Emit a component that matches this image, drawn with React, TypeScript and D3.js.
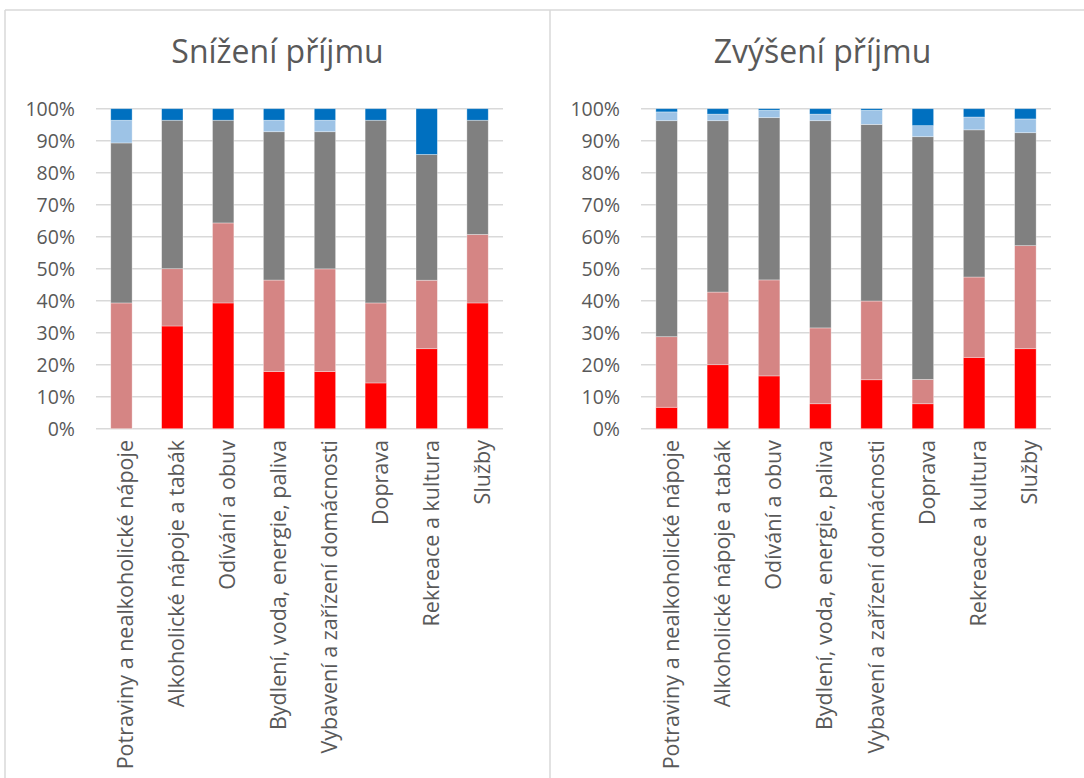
import React from "react";
import * as d3 from "d3";

const categories = [
  "Potraviny a nealkoholické nápoje",
  "Alkoholické nápoje a tabák",
  "Odívání a obuv",
  "Bydlení, voda, energie, paliva",
  "Vybavení a zařízení domácnosti",
  "Doprava",
  "Rekreace a kultura",
  "Služby",
];

const yTicks = [0, 0.1, 0.2, 0.3, 0.4, 0.5, 0.6, 0.7, 0.8, 0.9, 1];

// Snížení příjmu
const downRed = [0, 32.1, 39.3, 17.9, 17.9, 14.3, 25, 39.3];
const downPink = [39.3, 17.9, 25, 28.6, 32.1, 25, 21.4, 21.4];
const downGray = [50, 46.4, 32.1, 46.4, 42.9, 57.1, 39.3, 35.7];
const downLightBlue = [7.1, 0, 0, 3.6, 3.6, 0, 0, 0];
const downBlue = [3.6, 3.6, 3.6, 3.6, 3.6, 3.6, 14.3, 3.6];

// Zvýšení příjmu
const upRed = [6.7, 20.0, 16.5, 7.8, 15.3, 7.8, 22.3, 25.0];
const upPink = [22.05, 22.7, 30.0, 23.7, 24.6, 7.6, 25.1, 32.2];
const upGray = [67.5, 53.55, 50.7, 64.75, 55.2, 75.85, 46.0, 35.3];
const upLightBlue = [2.75, 2.05, 2.3, 2.05, 4.4, 3.45, 4.0, 4.3];
const upBlue = [1.0, 1.7, 0.5, 1.7, 0.5, 5.3, 2.6, 3.2];

const seriesKeys = ["red", "pink", "gray", "lightBlue", "blue"];
const seriesColors = ["#FF0000", "#D58584", "#808080", "#9DC3E6", "#0070C0"];

const FONT = "'Open Sans', 'DejaVu Sans', sans-serif";
const TXT = "#595959";
const GRID = "#D9D9D9";

type PanelProps = {
  title: string;
  series: number[][];
  frameX: number;
  plotX0: number;
  plotX1: number;
};

function Panel({ title, series, frameX, plotX0, plotX1 }: PanelProps) {
  const rows = categories.map((c, i) => {
    const r: any = { cat: c };
    seriesKeys.forEach((k, j) => (r[k] = series[j][i]));
    return r;
  });
  const stacked = d3
    .stack<any>()
    .keys(seriesKeys)
    .offset(d3.stackOffsetExpand)(rows);

  const x = d3
    .scaleBand<string>()
    .domain(categories)
    .range([plotX0, plotX1])
    .paddingInner(0.58)
    .paddingOuter(0.29);
  const y = d3.scaleLinear().domain([0, 1]).range([428.7, 108.7]);
  const fmt = d3.format(".0%");
  const cx = frameX + 272.5;

  return (
    <g>
      <text
        x={cx}
        y={63}
        textAnchor="middle"
        fontFamily={FONT}
        fontSize={32}
        fill={TXT}
      >
        {title}
      </text>
      {yTicks.map((t) => (
        <g key={t}>
          <line
            x1={plotX0}
            x2={plotX1}
            y1={y(t)}
            y2={y(t)}
            stroke={GRID}
            strokeWidth={1.5}
          />
          <text
            x={plotX0 - 21}
            y={y(t)}
            dy="0.35em"
            textAnchor="end"
            fontFamily={FONT}
            fontSize={19.5}
            fill={TXT}
          >
            {fmt(t)}
          </text>
        </g>
      ))}
      {stacked.map((s, j) => (
        <g key={s.key} fill={seriesColors[j]}>
          {s.map((d, i) => {
            const h = y(d[0]) - y(d[1]);
            if (h <= 0.01) return null;
            return (
              <rect
                key={i}
                x={x(categories[i])}
                width={x.bandwidth()}
                y={y(d[1])}
                height={h}
                stroke="#ffffff"
                strokeOpacity={0.45}
                strokeWidth={0.75}
              />
            );
          })}
        </g>
      ))}
      {categories.map((c) => {
        const px = (x(c) as number) + x.bandwidth() / 2;
        return (
          <text
            key={c}
            transform={`translate(${px + 12},440) rotate(-90)`}
            textAnchor="end"
            fontFamily={FONT}
            fontSize={21.5}
            fill={TXT}
          >
            {c}
          </text>
        );
      })}
    </g>
  );
}

export default function App() {
  return (
    <svg
      width={1084}
      height={778}
      style={{ position: "absolute", left: 0, top: 0, background: "#fff" }}
    >
      <rect x={0} y={0} width={1084} height={778} fill="#fff" />
      <line x1={5} x2={1084} y1={10} y2={10} stroke={GRID} strokeWidth={1.5} />
      <line x1={5} x2={5} y1={10} y2={778} stroke={GRID} strokeWidth={1.5} />
      <line x1={550} x2={550} y1={10} y2={778} stroke={GRID} strokeWidth={1.5} />
      <Panel
        title="Snížení příjmu"
        series={[downRed, downPink, downGray, downLightBlue, downBlue]}
        frameX={5}
        plotX0={96}
        plotX1={503}
      />
      <Panel
        title="Zvýšení příjmu"
        series={[upRed, upPink, upGray, upLightBlue, upBlue]}
        frameX={550}
        plotX0={641}
        plotX1={1051}
      />
    </svg>
  );
}
